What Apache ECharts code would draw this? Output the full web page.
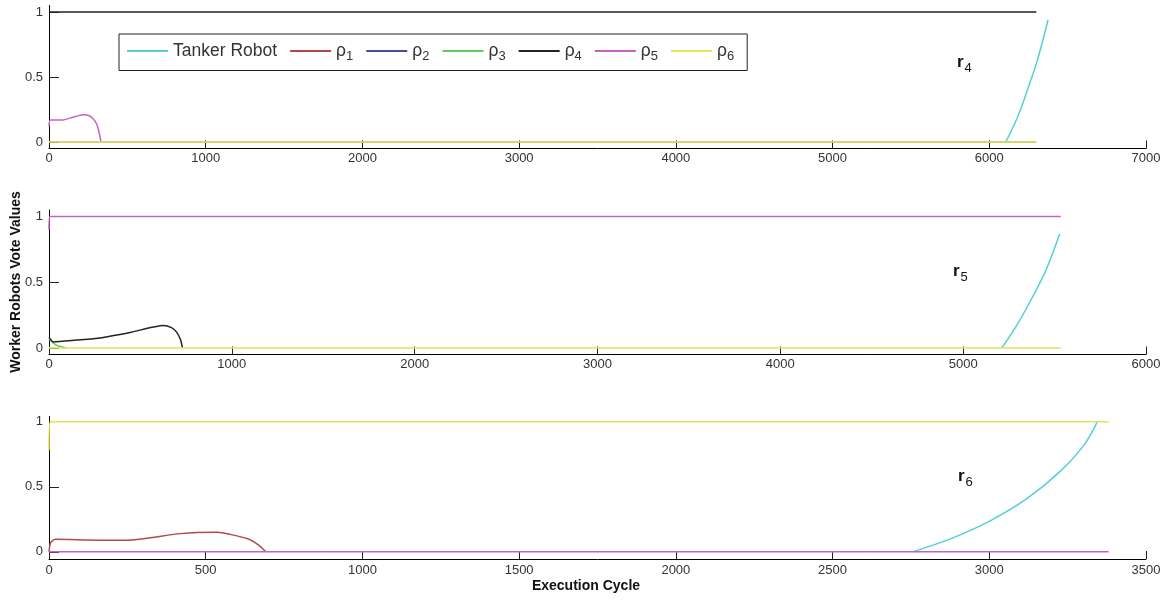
<!DOCTYPE html>
<html>
<head>
<meta charset="utf-8">
<script src="https://cdn.jsdelivr.net/npm/echarts@6/dist/echarts.min.js"></script>
<style>
  html, body { margin: 0; padding: 0; background: #fff; }
  #chart { width: 1172px; height: 601px; }
</style>
</head>
<body>
<div id="chart"></div>
<script>
// Series names and colours (Tanker Robot + worker robots rho1..rho6)
const seriesNames = ['Tanker Robot', 'ρ1', 'ρ2', 'ρ3', 'ρ4', 'ρ5', 'ρ6'];
const seriesColors = ['#55cfd6', '#b44848', '#4a4a9c', '#5ccc5c', '#222222', '#c463c4', '#e6e650'];

// Panel labels and x-axis ranges
const panelLabels = ['4', '5', '6'];
const xMax = [7000, 6000, 3500];
const xInterval = [1000, 1000, 500];
const yTicks = [0, 0.5, 1];

// ---- Panel r4: [execution cycle, vote value]
const r4Tanker = [[6105, 0], [6180, 0.19], [6243, 0.4], [6307, 0.63], [6375, 0.94]];
const r4Rho1 = [];
const r4Rho2 = [[0, 0], [6300, 0]];
const r4Rho3 = [];
const r4Rho4 = [[0, 1], [6300, 1]];
const r4Rho5 = [[0, 0.12], [8, 0.17], [90, 0.17], [150, 0.19], [219, 0.21], [260, 0.2], [294, 0.16], [315, 0.1], [332, 0]];
const r4Rho6 = [[0, 0], [6300, 0]];

// ---- Panel r5
const r5Tanker = [[5211, 0], [5288, 0.16], [5361, 0.34], [5452, 0.59], [5528, 0.87]];
const r5Rho1 = [];
const r5Rho2 = [];
const r5Rho3 = [[0, 0.07], [20, 0.04], [50, 0.015], [96, 0]];
const r5Rho4 = [[0, 0.08], [24, 0.046], [150, 0.06], [279, 0.076], [450, 0.12], [624, 0.17], [670, 0.155], [698, 0.12], [720, 0.06], [730, 0]];
const r5Rho5 = [[0, 0.9], [5, 1], [5534, 1]];
const r5Rho6 = [[0, 0], [5534, 0]];

// ---- Panel r6
const r6Tanker = [[2754, 0], [2876, 0.1], [3004, 0.24], [3121, 0.41], [3227, 0.62], [3302, 0.82], [3345, 1.0]];
const r6Rho1 = [[0, 0], [5, 0.07], [19, 0.096], [163, 0.09], [249, 0.09], [420, 0.14], [537, 0.15], [634, 0.1], [670, 0.05], [692, 0]];
const r6Rho2 = [];
const r6Rho3 = [];
const r6Rho4 = [];
const r6Rho5 = [[0, 0], [3381, 0]];
const r6Rho6 = [[0, 0.78], [4, 1], [3381, 1]];

const panels = [
  [r4Tanker, r4Rho1, r4Rho2, r4Rho3, r4Rho4, r4Rho5, r4Rho6],
  [r5Tanker, r5Rho1, r5Rho2, r5Rho3, r5Rho4, r5Rho5, r5Rho6],
  [r6Tanker, r6Rho1, r6Rho2, r6Rho3, r6Rho4, r6Rho5, r6Rho6]
];

const gridBoxes = [
  { top: 5.5, height: 143 },
  { top: 210, height: 144.5 },
  { top: 416.5, height: 142.5 }
];
const yRanges = [[-0.05, 1.05], [-0.05, 1.05], [-0.055, 1.04]];
const labelMargins = [3, 3, 5];

const grids = gridBoxes.map(b => ({ left: 49, width: 1097, top: b.top, height: b.height }));

const xAxes = xMax.map((mx, i) => ({
  type: 'value', gridIndex: i, min: 0, max: mx, interval: xInterval[i],
  axisLine: { onZero: false, lineStyle: { color: '#000', width: 1 } },
  axisTick: { inside: true, length: 8, lineStyle: { color: '#222' } },
  axisLabel: {
    color: '#333', fontFamily: 'Liberation Sans, Arial', fontSize: 13, margin: labelMargins[i],
    formatter: v => String(v)
  },
  splitLine: { show: false }
}));

const yAxes = yRanges.map((r, i) => ({
  type: 'value', gridIndex: i, min: r[0], max: r[1],
  axisLine: { show: true, lineStyle: { color: '#000', width: 1 } },
  axisTick: { inside: true, length: 10, customValues: yTicks, lineStyle: { color: '#222' } },
  axisLabel: {
    color: '#333', fontFamily: 'Liberation Sans, Arial', fontSize: 13, margin: 6,
    customValues: yTicks,
    formatter: v => String(v)
  },
  splitLine: { show: false }
}));

const series = [];
panels.forEach((p, pi) => {
  p.forEach((data, si) => {
    series.push({
      type: 'line', name: seriesNames[si], xAxisIndex: pi, yAxisIndex: pi,
      data: data, showSymbol: false, symbol: 'none', smooth: si === 0 ? 0.35 : 0.2,
      lineStyle: { color: seriesColors[si], width: si === 2 ? 1 : 1.5 },
      itemStyle: { color: seriesColors[si] },
      animation: false, silent: true
    });
  });
});

const panelTags = [
  { x: 957, y: 54 },
  { x: 953, y: 263 },
  { x: 958, y: 468 }
];

const graphics = panelTags.map((t, i) => ({
  type: 'text', left: t.x, top: t.y,
  style: {
    text: '{r|r}{s|' + panelLabels[i] + '}',
    rich: {
      r: { fontFamily: 'Liberation Sans, Arial', fontSize: 17, fontWeight: 'bold', fill: '#111' },
      s: { fontFamily: 'Liberation Sans, Arial', fontSize: 13, fill: '#111', padding: [11, 0, 0, 1] }
    }
  }
}));
graphics.push({
  type: 'text', left: 'center', top: 579,
  style: { text: 'Execution Cycle', font: 'bold 14px "Liberation Sans", Arial', fill: '#111' }
});
graphics.push({
  type: 'text', x: 9, y: 282, rotation: Math.PI / 2,
  style: { text: 'Worker Robots Vote Values', font: 'bold 14px "Liberation Sans", Arial', fill: '#111', align: 'center', verticalAlign: 'top' }
});

const chart = echarts.init(document.getElementById('chart'), null, { renderer: 'canvas' });
chart.setOption({
  backgroundColor: '#fff',
  animation: false,
  legend: {
    data: seriesNames,
    left: 119, top: 34,
    orient: 'horizontal',
    backgroundColor: '#fff',
    borderColor: '#222', borderWidth: 1,
    padding: [8, 13, 8, 8],
    itemWidth: 41, itemHeight: 2, itemGap: 13,
    icon: 'rect',
    selectedMode: false,
    textStyle: {
      fontFamily: 'Liberation Sans, Arial', fontSize: 17.5, color: '#333',
      rich: {
        r: { fontFamily: 'Liberation Sans, Arial', fontSize: 17.5, color: '#333' },
        s: { fontFamily: 'Liberation Sans, Arial', fontSize: 13, color: '#333', padding: [10, 0, 0, 0] }
      }
    },
    formatter: name => name.startsWith('ρ') ? '{r|ρ}{s|' + name.slice(1) + '}' : name
  },
  grid: grids,
  xAxis: xAxes,
  yAxis: yAxes,
  series: series,
  graphic: graphics
});
</script>
</body>
</html>
